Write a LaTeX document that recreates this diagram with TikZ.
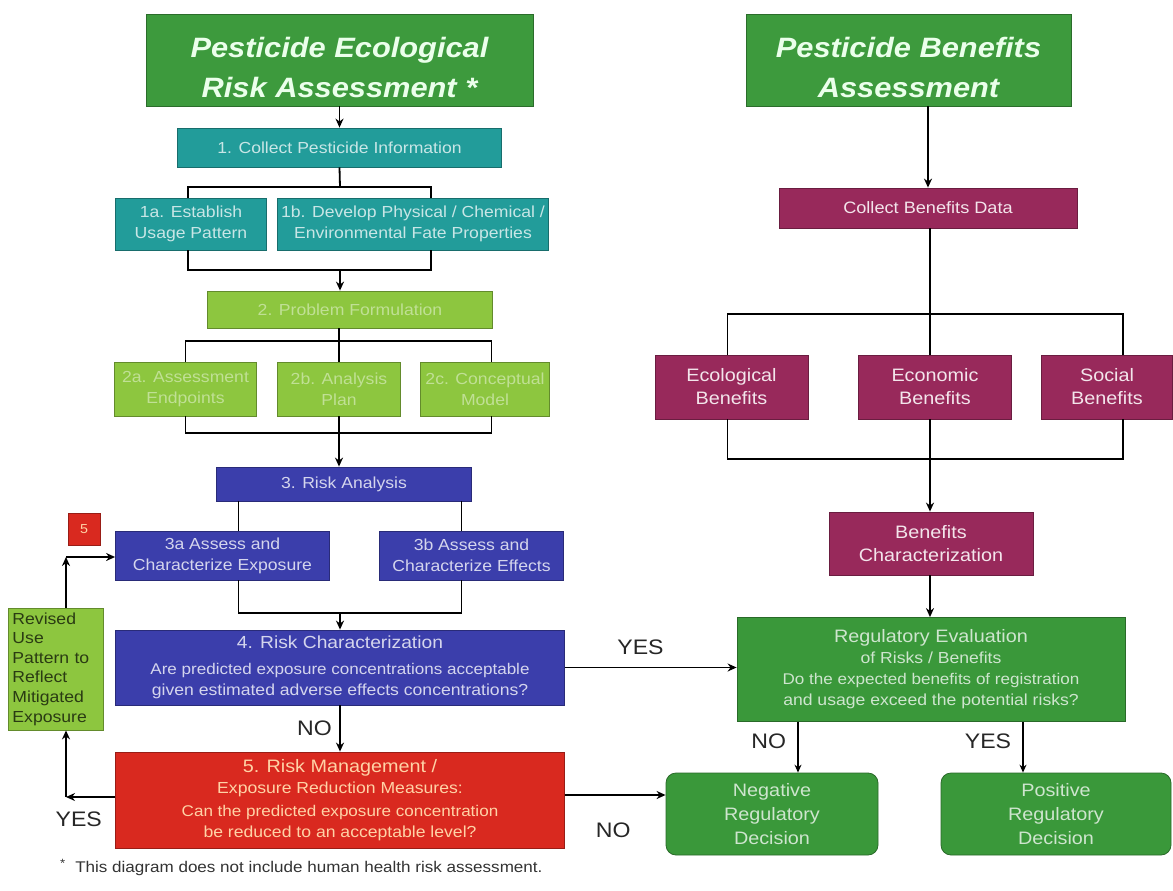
\documentclass[tikz,border=0pt]{standalone}
\usepackage{fontspec}
\setmainfont{Liberation Sans}[FakeStretch=1.1]
\usetikzlibrary{positioning,arrows.meta}
\definecolor{hdgreen}{HTML}{3D9A3D}
\definecolor{tealc}{HTML}{229C9A}
\definecolor{limec}{HTML}{8DC63F}
\definecolor{bluec}{HTML}{3B3EAB}
\definecolor{redc}{HTML}{D9291F}
\definecolor{plumc}{HTML}{98295B}
\definecolor{evalc}{HTML}{3A983A}

\begin{document}
\begin{tikzpicture}[x=1pt,y=1pt,on grid,
    line width=1.8pt,
    arr/.style={-{Stealth[length=9pt,width=8pt]}},
    thin arr/.style={line width=1.1pt,-{Stealth[length=8pt,width=7pt]}},
    box/.style={line width=0.8pt,align=center,inner sep=2pt,font=\fontsize{16}{21}\selectfont},
    head/.style={box,draw=hdgreen!70!black,fill=hdgreen,text=white!92!green,
      font=\fontsize{28}{40}\selectfont\bfseries\itshape},
    tealbox/.style={box,draw=tealc!70!black,fill=tealc,text=tealc!25!white},
    limebox/.style={box,draw=limec!70!black,fill=limec,text=limec!55!white},
    bluebox/.style={box,draw=bluec!70!black,fill=bluec,text=bluec!22!white},
    redbox/.style={box,draw=redc!70!black,fill=redc,text=orange!35!white},
    plumbox/.style={box,draw=plumc!70!black,fill=plumc,text=plumc!12!white,font=\fontsize{18}{23}\selectfont},
    evalbox/.style={box,draw=evalc!70!black,fill=evalc,text=evalc!25!white},
    lbl/.style={font=\fontsize{21}{24}\selectfont,text=black!85}]
\useasboundingbox (0,0) rectangle (1173,-891);

% ecological risk side
\node[head, minimum width=387pt, minimum height=92pt] (hEco) at (339.5,-60) {\rule{0pt}{36pt}Pesticide Ecological\\Risk Assessment *};
\node[tealbox, minimum width=324pt, minimum height=39pt] (info) [below=87.5pt of hEco] {1. Collect Pesticide Information};
\node[tealbox, minimum width=151pt, minimum height=52pt] (usage) [below=76.5pt of info, xshift=-148.5pt] {1a. Establish\\Usage Pattern};
\node[tealbox, minimum width=271pt, minimum height=52pt] (fate) [below=76.5pt of info, xshift=73.5pt] {1b. Develop Physical / Chemical /\\Environmental Fate Properties};
\node[limebox, minimum width=285pt, minimum height=37pt] (probl) [below=162pt of info, xshift=10.5pt] {2. Problem Formulation};
\node[limebox, minimum width=142pt, minimum height=54pt] (endpt) [below=79.5pt of probl, xshift=-164.5pt] {2a. Assessment\\Endpoints};
\node[limebox, minimum width=123pt, minimum height=54pt] (plan) [below=79.5pt of probl, xshift=-11pt] {2b. Analysis\\Plan};
\node[limebox, minimum width=129pt, minimum height=54pt] (model) [below=79.5pt of probl, xshift=135pt] {2c. Conceptual\\Model};
\node[bluebox, minimum width=255pt, minimum height=34pt] (anal) [below=174.5pt of probl, xshift=-6pt] {3. Risk Analysis};
\node[bluebox, minimum width=214pt, minimum height=49pt] (expo) [below=71.5pt of anal, xshift=-121.5pt] {3a Assess and\\Characterize Exposure};
\node[bluebox, minimum width=184pt, minimum height=49pt] (effe) [below=71.5pt of anal, xshift=127.5pt] {3b Assess and\\Characterize Effects};
\node[bluebox, minimum width=449pt, minimum height=75pt] (charz) [below=183.5pt of anal, xshift=-4pt]
  {\fontsize{17.5}{22}\selectfont 4. Risk Characterization\\[5pt]
   \fontsize{15.5}{18.5}\selectfont Are predicted exposure concentrations acceptable\\
   given estimated adverse effects concentrations?};
\node[redbox, minimum width=449pt, minimum height=96pt] (mgmt) [below=132.5pt of charz]
  {\fontsize{18}{19.5}\selectfont 5. Risk Management /\\
   Exposure Reduction Measures:\\[2pt]
   \fontsize{15.5}{19.5}\selectfont Can the predicted exposure concentration\\
   be reduced to an acceptable level?};
\node[limebox, text=limec!30!black, align=left, minimum width=95pt, minimum height=122pt,
  font=\fontsize{16}{19.6}\selectfont, text width=87pt] (revis) [left=284pt of charz, yshift=-1.5pt]
  {Revised\\Use\\Pattern to\\Reflect\\Mitigated\\Exposure};
\node[redbox, minimum width=32pt, minimum height=32pt, font=\fontsize{13}{15}\selectfont] (flag) at (84,-529) {5};

% benefits side
\node[head, minimum width=325pt, minimum height=92pt] (hBen) at (908.5,-60) {\rule{0pt}{36pt}Pesticide Benefits\\Assessment};
\node[plumbox, minimum width=298pt, minimum height=40pt, font=\fontsize{16.5}{21}\selectfont] (data) [below=148pt of hBen, xshift=19.5pt] {Collect Benefits Data};
\node[plumbox, minimum width=153pt, minimum height=64pt] (econb) [below=179pt of data, xshift=7pt] {Economic\\Benefits};
\node[plumbox, minimum width=153pt, minimum height=64pt] (ecob) [left=203.5pt of econb] {Ecological\\Benefits};
\node[plumbox, minimum width=131pt, minimum height=64pt] (socb) [right=172pt of econb] {Social\\Benefits};
\node[plumbox, minimum width=204pt, minimum height=63pt] (bchar) [below=156.5pt of econb, xshift=-4pt] {Benefits\\Characterization};
\node[evalbox, minimum width=388pt, minimum height=104pt] (regev) [below=126pt of bchar]
  {\fontsize{18}{21}\selectfont Regulatory Evaluation\\of Risks / Benefits\\
   \fontsize{15.5}{21}\selectfont Do the expected benefits of registration\\
   and usage exceed the potential risks?};
\node[evalbox, rounded corners=10pt, minimum width=212pt, minimum height=82pt, font=\fontsize{18}{24}\selectfont]
  (neg) [below=144.5pt of regev, xshift=-159pt] {Negative\\Regulatory\\Decision};
\node[evalbox, rounded corners=10pt, minimum width=230pt, minimum height=82pt, font=\fontsize{18}{24}\selectfont]
  (pos) [below=144.5pt of regev, xshift=125pt] {Positive\\Regulatory\\Decision};

\node[anchor=west, text=black!80, font=\fontsize{15.5}{18}\selectfont] (foot) at (56,-867)
  {\raisebox{5pt}{\fontsize{12}{12}\selectfont *}\,\, This diagram does not include human health risk assessment.};

% junctions
\coordinate (j1) at (340,-187);
\coordinate (j2) at (340,-270);
\coordinate (j3) at (339,-341);
\coordinate (j4) at (339,-433);
\coordinate (j5) at (340,-613);
\coordinate (k1) at (66,-797);
\coordinate (k2) at (66,-557);
\coordinate (r1) at (930,-314);
\coordinate (r2) at (930,-459);

% ecological connectors
\draw[arr] (hEco.south) -- (info.north);
\draw (info.south) -- (j1);
\draw ([xshift=-3pt]usage.north) |- (j1) -| ([xshift=18pt]fate.north);
\draw ([xshift=-3pt]usage.south) |- (j2) -| ([xshift=18pt]fate.south);
\draw[arr] (j2) -- (j2 |- probl.north);
\draw (j3 |- probl.south) -- (j3);
\draw (endpt.north) |- (j3) -| ([xshift=6.5pt]model.north);
\draw (j3) -- (plan.north);
\draw (endpt.south) |- (j4) -| ([xshift=6.5pt]model.south);
\draw (plan.south) -- (j4);
\draw[arr] (j4) -- (j4 |- anal.north);
\draw ([xshift=16pt]expo.north) -- ([xshift=16pt]expo.north |- anal.south);
\draw ([xshift=-10pt]effe.north) -- ([xshift=-10pt]effe.north |- anal.south);
\draw ([xshift=16pt]expo.south) |- (j5) -| ([xshift=-10pt]effe.south);
\draw[arr] (j5) -- (charz.north);
\draw[arr] (charz.south) -- node[lbl, left=4pt] {NO} (mgmt.north);
\draw[arr] (charz.east) -- node[lbl, above=9pt, pos=0.44] {YES} (charz.east -| regev.west);
\draw[arr] ([yshift=5pt]mgmt.east) -- node[lbl, below=24pt, pos=0.48] {NO} ([yshift=5pt]mgmt.east -| neg.west);
\draw[arr] ([yshift=3pt]mgmt.west) -- node[lbl, below=11pt, pos=0.74] {YES} (k1);
\draw[arr] (k1) -- (k1 |- revis.south);
\draw[arr] (k2 |- revis.north) -- (k2);
\draw[arr] (k2) -- (k2 -| expo.west);

% benefits connectors
\draw[arr] (data.north |- hBen.south) -- (data.north);
\draw (r1 |- data.south) -- (r1);
\draw ([xshift=-4pt]ecob.north) |- (r1) -| ([xshift=16pt]socb.north);
\draw (r1) -- (r1 |- econb.north);
\draw ([xshift=-4pt]ecob.south) |- (r2) -| ([xshift=16pt]socb.south);
\draw (r1 |- econb.south) -- (r2);
\draw[arr] (r2) -- (r2 |- bchar.north);
\draw[arr] (r2 |- bchar.south) -- (r2 |- regev.north);
\draw[thin arr] ([xshift=26pt]neg.north |- regev.south) -- node[lbl, left=8pt, yshift=6pt] {NO} ([xshift=26pt]neg.north);
\draw[thin arr] ([xshift=-33pt]pos.north |- regev.south) -- node[lbl, left=8pt, yshift=6pt] {YES} ([xshift=-33pt]pos.north);
\end{tikzpicture}
\end{document}
